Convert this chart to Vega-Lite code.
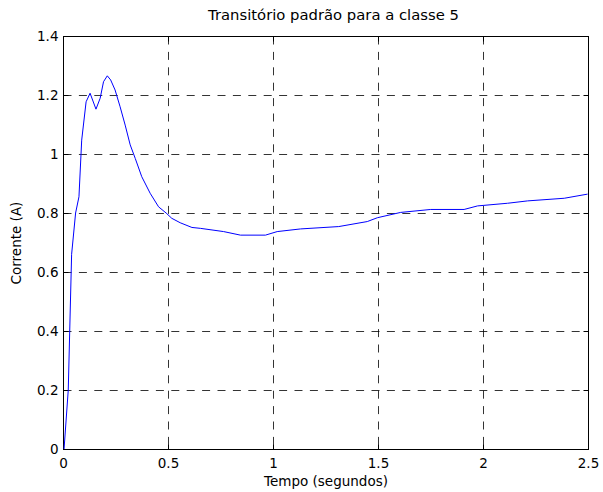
{
  "$schema": "https://vega.github.io/schema/vega-lite/v6.json",
  "autosize": {"type": "none"},
  "width": 525,
  "height": 413,
  "padding": {"left": 63, "top": 36, "right": 15, "bottom": 43},
  "background": "white",
  "config": {
    "view": {"stroke": "black", "strokeWidth": 1},
    "font": "DejaVu Sans",
    "axis": {
      "domainColor": "black",
      "tickColor": "black",
      "tickSize": -5,
      "labelColor": "black",
      "labelFont": "DejaVu Sans",
      "labelFontSize": 13.5,
      "titleFont": "DejaVu Sans",
      "titleFontSize": 13.5,
      "titleFontWeight": "normal",
      "titleColor": "black",
      "gridColor": "black",
      "gridOpacity": 1,
      "gridWidth": 0.8,
      "gridDash": [8, 7.4],
      "labelFlush": false,
      "labelOverlap": false
    }
  },
  "title": {
    "text": "Transitório padrão para a classe 5",
    "font": "DejaVu Sans",
    "fontSize": 14.8,
    "fontWeight": "normal",
    "color": "black",
    "anchor": "middle",
    "baseline": "alphabetic",
    "offset": -6,
    "dx": 8
  },
  "data": {
    "values": [
      {"t": 0.005, "i": 0},
      {"t": 0.025, "i": 0.2},
      {"t": 0.041, "i": 0.66},
      {"t": 0.06, "i": 0.8},
      {"t": 0.076, "i": 0.855},
      {"t": 0.089, "i": 1.047},
      {"t": 0.11, "i": 1.177},
      {"t": 0.129, "i": 1.206},
      {"t": 0.157, "i": 1.152},
      {"t": 0.177, "i": 1.189},
      {"t": 0.193, "i": 1.245},
      {"t": 0.211, "i": 1.265},
      {"t": 0.227, "i": 1.251},
      {"t": 0.248, "i": 1.217},
      {"t": 0.272, "i": 1.16},
      {"t": 0.296, "i": 1.098},
      {"t": 0.32, "i": 1.031},
      {"t": 0.344, "i": 0.985},
      {"t": 0.375, "i": 0.923},
      {"t": 0.415, "i": 0.867},
      {"t": 0.455, "i": 0.821},
      {"t": 0.491, "i": 0.8},
      {"t": 0.518, "i": 0.782},
      {"t": 0.558, "i": 0.767},
      {"t": 0.614, "i": 0.751},
      {"t": 0.654, "i": 0.748},
      {"t": 0.765, "i": 0.737},
      {"t": 0.845, "i": 0.725},
      {"t": 0.964, "i": 0.725},
      {"t": 1.02, "i": 0.737},
      {"t": 1.131, "i": 0.746},
      {"t": 1.313, "i": 0.754},
      {"t": 1.449, "i": 0.771},
      {"t": 1.497, "i": 0.784},
      {"t": 1.608, "i": 0.802},
      {"t": 1.751, "i": 0.812},
      {"t": 1.91, "i": 0.812},
      {"t": 1.974, "i": 0.824},
      {"t": 2.117, "i": 0.833},
      {"t": 2.212, "i": 0.841},
      {"t": 2.387, "i": 0.85},
      {"t": 2.498, "i": 0.864}
    ]
  },
  "layer": [
    {
      "mark": {"type": "line", "color": "#0000ff", "strokeWidth": 1, "clip": true},
      "encoding": {
        "x": {
          "field": "t", "type": "quantitative",
          "scale": {"domain": [0, 2.5], "nice": false, "zero": false},
          "axis": {"title": "Tempo (segundos)", "values": [0, 0.5, 1, 1.5, 2, 2.5], "format": "~g", "labelPadding": 12, "titlePadding": 5, "grid": true}
        },
        "y": {
          "field": "i", "type": "quantitative",
          "scale": {"domain": [0, 1.4], "nice": false},
          "axis": {"title": "Corrente (A)", "values": [0, 0.2, 0.4, 0.6, 0.8, 1, 1.2, 1.4], "format": "~g", "labelPadding": 10, "titlePadding": 13, "grid": true}
        }
      }
    },
    {
      "mark": {"type": "line", "opacity": 0},
      "encoding": {
        "x": {
          "field": "t", "type": "quantitative",
          "scale": {"domain": [0, 2.5], "nice": false, "zero": false},
          "axis": {"orient": "top", "title": null, "values": [0, 0.5, 1, 1.5, 2, 2.5], "labels": false, "grid": false}
        },
        "y": {
          "field": "i", "type": "quantitative",
          "scale": {"domain": [0, 1.4], "nice": false},
          "axis": {"orient": "right", "title": null, "values": [0, 0.2, 0.4, 0.6, 0.8, 1, 1.2, 1.4], "labels": false, "grid": false}
        }
      }
    }
  ],
  "resolve": {"axis": {"x": "independent", "y": "independent"}}
}
